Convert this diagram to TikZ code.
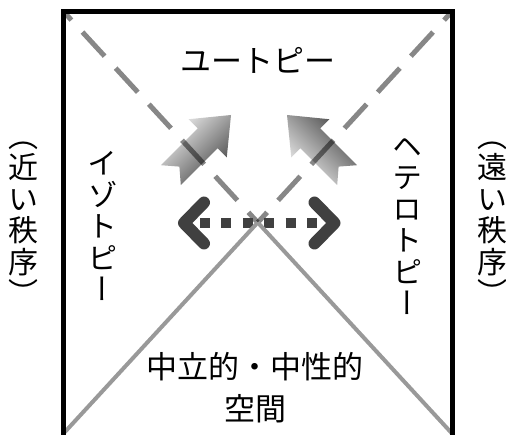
\documentclass[tikz,border=0pt]{standalone}
\usepackage{fontspec}
\newfontfamily\jpfont{Noto Sans CJK JP}
\newfontfamily\jptate[RawFeature=+vert]{Noto Sans CJK JP}
\usetikzlibrary{calc}

\begin{document}
\begin{tikzpicture}[x=1pt, y=-1pt,
    frameline/.style={line width=5pt, line join=miter},
    dashdiag/.style={line width=5pt, draw=black, draw opacity=0.47,
      dash pattern=on 32.7pt off 16.3pt, dash phase=21pt},
    soliddiag/.style={line width=4pt, draw=black!40},
    chevron/.style={line width=12pt, draw=black!75, line cap=round, line join=round},
    dotline/.style={line width=10pt, draw=black!75, dash pattern=on 10pt off 11.4pt},
    jptext/.style={font=\jpfont\fontsize{31}{42}\selectfont, align=center, inner sep=0pt},
    tatetext/.style={font=\jptate\fontsize{30}{31.5}\selectfont, align=center, inner sep=0pt}]
  \useasboundingbox (0,0) rectangle (506,435);
  \newcommand{\shadearrow}[3]
  {%
    \begin{scope}[shift={#1}, rotate=#2]
      \shade[left color=black!6, right color=black!72, shading angle=#3]
        (0,0) -- (-33,27) -- (-33,14) -- (-85,14) -- (-73,0)
        -- (-85,-14) -- (-33,-14) -- (-33,-27) -- cycle;
    \end{scope}%
  }%
  % corners of the square
  \coordinate (tl) at (63.5,11.5);
  \coordinate (tr) at (452,11.5);
  \coordinate (bl) at (63.5,433.5);
  \coordinate (br) at (452,433.5);
  \coordinate (mid) at ($(tl)!0.5!(br)$);
  % faded arrows towards the top
  \shadearrow{(231,115)}{45}{45}
  \shadearrow{(287,115)}{135}{135}
  % upper half of the diagonals
  \draw[dashdiag] (tl) -- (mid);
  \draw[dashdiag] (tr) -- (mid);
  % dotted double arrow
  \coordinate (lvert) at (184,223);
  \coordinate (rvert) at (334.5,223);
  \coordinate (dotl) at (200,223);
  \coordinate (dotr) at (317,223);
  \draw[dotline] (dotl) -- (dotr);
  \draw[chevron] (204,202.5) -- (lvert) -- (204,243.5);
  \draw[chevron] (314.5,202.5) -- (rvert) -- (314.5,243.5);
  % lower half of the diagonals
  \draw[soliddiag] (bl) -- (mid);
  \draw[soliddiag] (br) -- (mid);
  % frame
  \draw[frameline] (63.5,437) -- (tl) -- (tr) -- (452,437) -- cycle;
  % labels
  \node[jptext] (utopia) at (258,60) {ユートピー};
  \node[jptext] (neutral) at (255,388) {中立的・中性的\\空間};
  \node[tatetext] (isotopia) at (102,226) {イ\\ゾ\\ト\\ピ\\ー};
  \node[tatetext] (heterotopia) at (407,226.5) {ヘ\\テ\\ロ\\ト\\ピ\\ー};
  \node[tatetext] (nearorder) at (24,223) {（\\近\\い\\秩\\序\\）};
  \node[tatetext] (farorder) at (492,223) {（\\遠\\い\\秩\\序\\）};
\end{tikzpicture}
\end{document}
